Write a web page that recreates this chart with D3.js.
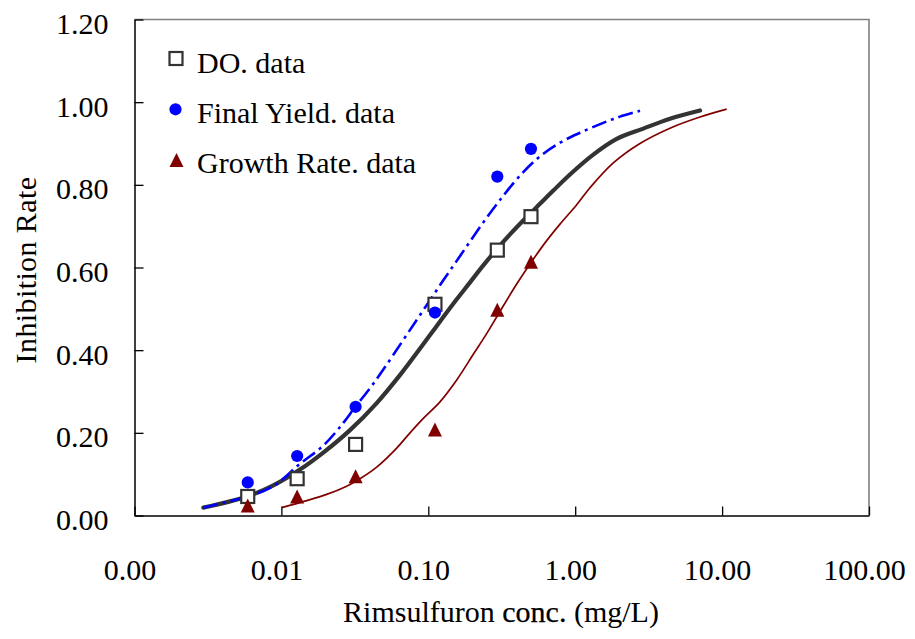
<!DOCTYPE html>
<html>
<head>
<meta charset="utf-8">
<script src="https://cdn.jsdelivr.net/npm/d3@7"></script>
<style>
  html, body { margin: 0; padding: 0; background: #fff; }
  svg { display: block; }
  text { font-family: "Liberation Serif", "Times New Roman", serif; fill: #000; }
</style>
</head>
<body>
<svg id="chart" width="915" height="639"></svg>
<script>
// ---------- data ----------
const conc = [0.0059, 0.0128, 0.032, 0.111, 0.295, 0.5];
const doData = [0.046, 0.089, 0.172, 0.511, 0.642, 0.723];
const fyData = [0.080, 0.144, 0.263, 0.491, 0.820, 0.887];
const grData = [0.024, 0.046, 0.095, 0.208, 0.498, 0.614];

const doFitX = [0.00294, 0.00586, 0.00881, 0.01338, 0.01928, 0.02931, 0.04454, 0.06591, 0.08337, 0.1027, 0.1265, 0.1561, 0.1923, 0.2367, 0.2921, 0.3598, 0.4675, 0.5759, 0.7095, 0.9217, 1.328, 1.917, 2.908, 4.419, 7.072];
const doFitY = [0.019, 0.046, 0.0726, 0.111, 0.152, 0.2065, 0.272, 0.345, 0.393, 0.4365, 0.480, 0.523, 0.564, 0.605, 0.644, 0.680, 0.722, 0.754, 0.786, 0.825, 0.873, 0.911, 0.936, 0.960, 0.980];

const fyFitX = [0.00294, 0.00586, 0.00881, 0.01338, 0.01928, 0.02639, 0.0317, 0.04009, 0.04939, 0.06591, 0.08337, 0.1027, 0.1265, 0.1561, 0.1923, 0.2367, 0.2921, 0.3417, 0.4433, 0.5759, 0.788, 1.078, 1.553, 2.018, 2.761];
const fyFitY = [0.019, 0.046, 0.071, 0.125, 0.169, 0.224, 0.262, 0.308, 0.353, 0.419, 0.473, 0.521, 0.569, 0.616, 0.663, 0.709, 0.753, 0.784, 0.831, 0.869, 0.902, 0.926, 0.950, 0.965, 0.979];

const grFitX = [0.01005, 0.01487, 0.02034, 0.02783, 0.03255, 0.04454, 0.06093, 0.07505, 0.09247, 0.1201, 0.1561, 0.2025, 0.2496, 0.2996, 0.3997, 0.5186, 0.6397, 0.788, 1.024, 1.261, 1.817, 2.761, 4.419, 7.072, 10.75];
const grFitY = [0.019, 0.036, 0.051, 0.071, 0.084, 0.117, 0.163, 0.200, 0.235, 0.275, 0.328, 0.390, 0.440, 0.487, 0.560, 0.620, 0.665, 0.705, 0.752, 0.793, 0.853, 0.900, 0.937, 0.964, 0.983];

const xTicks = [0.001, 0.01, 0.1, 1, 10, 100];
const yTicks = [0, 0.2, 0.4, 0.6, 0.8, 1.0, 1.2];
const legendLabels = ["DO. data", "Final Yield. data", "Growth Rate. data"];

// ---------- layout ----------
const svg = d3.select("#chart");
const L = 134.5, R = 869, T = 19.5, B = 515.5;
const FS = 30;

const x = d3.scaleLog().domain([0.001, 100]).range([L, R]);
const y = d3.scaleLinear().domain([0, 1.2]).range([B, T]);

// frame (top/right gray)
svg.append("path")
  .attr("d", `M${L},${T}H${R}V${B}`)
  .attr("fill", "none").attr("stroke", "#808080").attr("stroke-width", 1.6);

// axes
const fmt = d3.format(".2f");
const yAxis = svg.append("g").attr("transform", `translate(${L},0)`)
  .call(d3.axisLeft(y).tickValues(yTicks).tickFormat(fmt).tickSizeInner(-9).tickSizeOuter(0).tickPadding(26));
const xAxis = svg.append("g").attr("transform", `translate(0,${B})`)
  .call(d3.axisBottom(x).tickValues(xTicks).tickFormat(fmt).tickSizeInner(-9).tickSizeOuter(0));

[yAxis, xAxis].forEach(g => {
  g.select(".domain").attr("stroke", "#000").attr("stroke-width", 1.5);
  g.selectAll(".tick line").attr("stroke", "#000").attr("stroke-width", 1.3);
  g.selectAll("text").attr("font-size", FS).attr("font-family", "Liberation Serif, serif").attr("fill", "#000");
});
yAxis.selectAll("text").attr("dy", null).attr("y", 14);
xAxis.selectAll("text").attr("dy", null).attr("y", 64.5).attr("x", -5);

// axis titles
svg.append("text")
  .attr("transform", "translate(36,270) rotate(-90)")
  .attr("text-anchor", "middle").attr("font-size", FS)
  .attr("letter-spacing", 0.4)
  .text("Inhibition Rate");

const xt = svg.append("text")
  .attr("x", 501).attr("y", 621.7)
  .attr("text-anchor", "middle").attr("font-size", FS);
xt.append("tspan").text("Rimsulfuron ");
xt.append("tspan").attr("stroke", "#000").attr("stroke-width", 0.25).text("conc.");
xt.append("tspan").text(" (mg/L)");

// fitted curves
const line = d3.line().x(d => x(d[0])).y(d => y(d[1])).curve(d3.curveCatmullRom.alpha(0.5));
const zip = (a, b) => a.map((v, i) => [v, b[i]]);

svg.append("path").datum(zip(grFitX, grFitY))
  .attr("d", line).attr("fill", "none").attr("stroke", "#800000").attr("stroke-width", 1.7);
svg.append("path").datum(zip(doFitX, doFitY))
  .attr("d", line).attr("fill", "none").attr("stroke", "#333333").attr("stroke-width", 4.2)
  .attr("stroke-linecap", "round").attr("stroke-linejoin", "round");
svg.append("path").datum(zip(fyFitX, fyFitY))
  .attr("d", line).attr("fill", "none").attr("stroke", "#0000FF").attr("stroke-width", 2.6)
  .attr("stroke-dasharray", "15,5,3,5");

// markers
const SQ = 13;
function square(g, cx, cy) {
  g.append("rect").attr("x", cx - SQ / 2).attr("y", cy - SQ / 2).attr("width", SQ).attr("height", SQ)
    .attr("fill", "#fff").attr("stroke", "#333").attr("stroke-width", 2.2);
}
function circle(g, cx, cy) {
  g.append("circle").attr("cx", cx).attr("cy", cy).attr("r", 6.1).attr("fill", "#0000FF");
}
function tri(g, cx, cy) {
  const w = 14, h = 14;
  g.append("path").attr("d", `M${cx},${cy - h / 2}L${cx + w / 2},${cy + h / 2}L${cx - w / 2},${cy + h / 2}Z`)
    .attr("fill", "#800000");
}

const mk = svg.append("g");
conc.forEach((c, i) => square(mk, x(c), y(doData[i])));
conc.forEach((c, i) => circle(mk, x(c), y(fyData[i])));
conc.forEach((c, i) => tri(mk, x(c), y(grData[i])));

// legend
const lg = svg.append("g");
const lgY = [58.5, 109.3, 160];
const lgBase = [73.3, 122.7, 173];
square(lg, 176, lgY[0]);
circle(lg, 175.5, lgY[1]);
tri(lg, 176.5, lgY[2]);
legendLabels.forEach((t, i) => {
  lg.append("text").attr("x", 197).attr("y", lgBase[i]).attr("font-size", FS).text(t);
});
</script>
</body>
</html>
